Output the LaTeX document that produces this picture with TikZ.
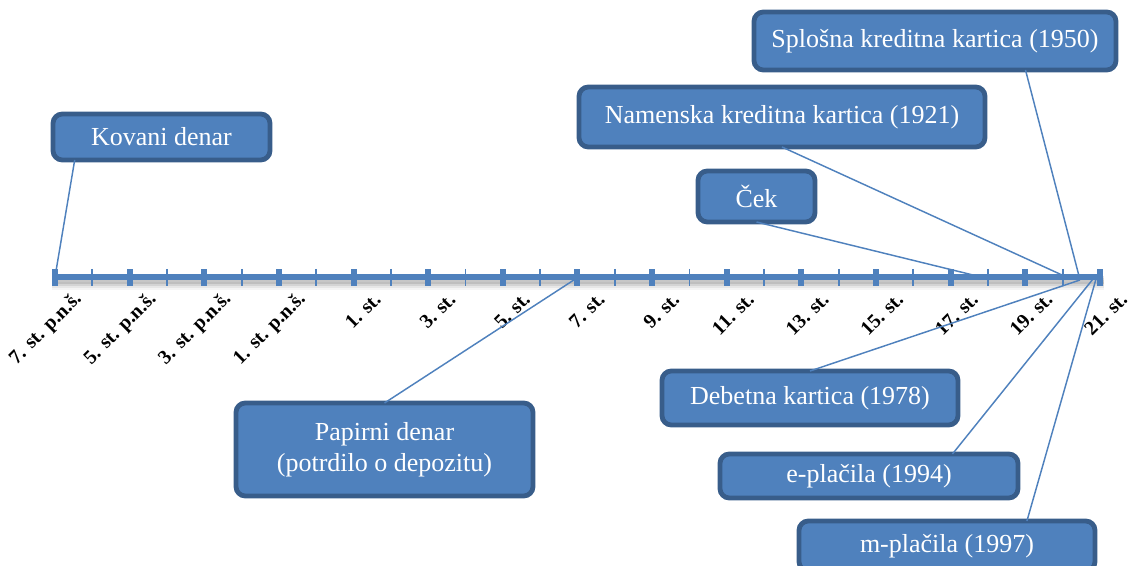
\documentclass[tikz,border=0pt]{standalone}
\usepackage{fontspec}
\setmainfont{Liberation Serif}
\usetikzlibrary{calc}
\definecolor{boxfill}{HTML}{4F81BD}
\definecolor{boxline}{HTML}{385D8A}
\definecolor{axiscol}{HTML}{4F81BD}
\begin{document}
\begin{tikzpicture}[x=0.75pt,y=-0.75pt,
  evbox/.style={draw=boxline, line width=3.6pt, fill=boxfill, rounded corners=7pt,
    inner sep=0pt, outer sep=0pt, text=white, font=\fontsize{19.5}{23.5}\selectfont, align=center},
  conn/.style={draw=axiscol, line width=1.1pt},
  ticklab/.style={font=\fontsize{15}{17}\selectfont\bfseries, rotate=45, anchor=east, inner sep=0pt},
  majtick/.style={fill=axiscol, draw=none},
  mintick/.style={draw=axiscol, line width=1.4pt},
]
\useasboundingbox (0,0) rectangle (1132,566);

% axis shadow
\foreach \d/\o in {3/0.10,5/0.08,7/0.06,9/0.04}
  \draw[line width=6pt, black, opacity=\o] (52,277+\d) -- (1104,277+\d);

% axis
\draw[axiscol, line width=5pt] (52,277) -- (1102,277);
\foreach \i in {0,...,14} {
  \pgfmathsetmacro{\xx}{55+\i*74.64}
  \coordinate (t\i) at (\xx,277);
  \fill[majtick] (\xx-3,269) rectangle (\xx+3,286);
}
\foreach \i in {0,...,13} {
  \pgfmathsetmacro{\xx}{55+\i*74.64+37.32}
  \draw[mintick] (\xx,269) -- (\xx,286);
}

% tick labels
\foreach \i/\lab in {0/7. st. p.n.š., 1/5. st. p.n.š., 2/3. st. p.n.š., 3/1. st. p.n.š.,
  4/1. st., 5/3. st., 6/5. st., 7/7. st., 8/9. st., 9/11. st., 10/13. st., 11/15. st.,
  12/17. st., 13/19. st., 14/21. st.}
  \node[ticklab] (lab\i) at ($(t\i)+(24,19)$) {\lab};

% boxes
\node[evbox, minimum width=217*0.75pt, minimum height=46*0.75pt] (kov) at (161.5,137) {Kovani denar};
\node[evbox, minimum width=297*0.75pt, minimum height=93*0.75pt] (pap) at (384.5,449.5) {Papirni denar\\(potrdilo o depozitu)};
\node[evbox, minimum width=362*0.75pt, minimum height=58*0.75pt] (spl) at (935,41) {Splošna kreditna kartica (1950)};
\node[evbox, minimum width=406*0.75pt, minimum height=60*0.75pt] (nam) at (782,117) {Namenska kreditna kartica (1921)};
\node[evbox, minimum width=117*0.75pt, minimum height=51*0.75pt] (cek) at (756.5,196.5) {Ček};
\node[evbox, minimum width=296*0.75pt, minimum height=54*0.75pt] (deb) at (810,398) {Debetna kartica (1978)};
\node[evbox, minimum width=298*0.75pt, minimum height=44*0.75pt] (epl) at (869,476) {e-plačila (1994)};
\node[evbox, minimum width=296*0.75pt, minimum height=50*0.75pt] (mpl) at (947,546) {m-plačila (1997)};

% connector end points
\coordinate (epap) at (580,276);
\coordinate (enam) at (1062,275);
\coordinate (ecek) at (973,275);
\coordinate (espl) at (1079,276);
\coordinate (edeb) at (1080,280);
\coordinate (eepl) at (1093,279);
\coordinate (empl) at (1096,279);

% connectors
\draw[conn] ($(kov.south west)!0.10!(kov.south east)$) -- (t0);
\draw[conn] (pap.north) -- (epap);
\draw[conn] (nam.south) -- (enam);
\draw[conn] (cek.south) -- (ecek);
\draw[conn] ($(spl.south west)!0.75!(spl.south east)$) -- (espl);
\draw[conn] (deb.north) -- (edeb);
\draw[conn] ($(epl.north west)!0.78!(epl.north east)$) -- (eepl);
\draw[conn] ($(mpl.north west)!0.77!(mpl.north east)$) -- (empl);
\end{tikzpicture}
\end{document}
